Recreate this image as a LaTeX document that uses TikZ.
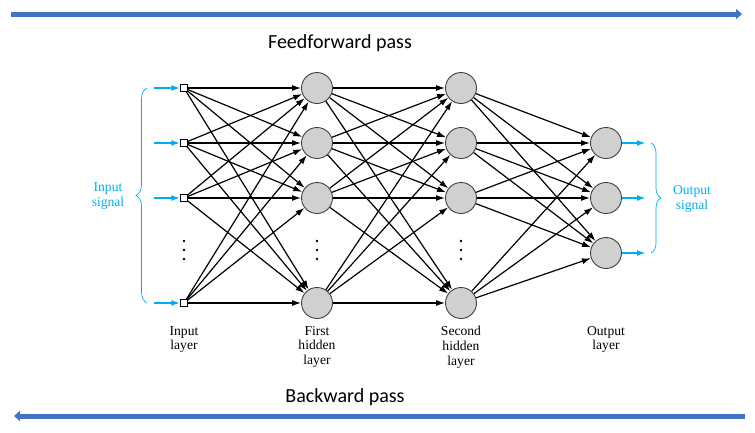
\documentclass[tikz,border=0pt]{standalone}
\usepackage{fontspec}
\setmainfont{Liberation Serif}
\newfontfamily\passfont{Carlito}
\usetikzlibrary{graphs,arrows.meta,decorations.pathreplacing}
\definecolor{signalblue}{HTML}{00AEEF}
\definecolor{passblue}{HTML}{4472C4}
\definecolor{neurongray}{HTML}{D0D0D0}
\tikzset{
  neuron/.style={circle,draw=black!75,fill=neurongray,line width=.9pt,minimum size=31pt,inner sep=0pt},
  inputbox/.style={rectangle,draw=black,fill=white,line width=.9pt,minimum size=6.5pt,inner sep=0pt},
  layerlabel/.style={align=center,inner sep=0pt,font=\fontsize{13.6}{14.7}\selectfont},
  sigarrow/.style={signalblue,line width=2pt,-{Latex[length=9pt,width=6pt]}},
  sigbrace/.style={signalblue,line width=.7pt,decorate},
  passarrow/.style={passblue,line width=5pt,-{Triangle[length=6pt,width=10pt]}},
  passlabel/.style={font=\passfont\fontsize{20}{24}\selectfont},
  linkarrow/.style={line width=1.2pt,black}
}
\begin{document}
\begin{tikzpicture}[x=1pt,y=-1pt,>={Latex[length=9pt,width=6pt]}]
\useasboundingbox (0,0) rectangle (755,432);
% layers
\foreach \y [count=\i] in {88,143,198,303}{
  \node [inputbox] (i\i) at (184,\y) {};
  \node [neuron] (a\i) at (317,\y) {};
  \node [neuron] (b\i) at (461,\y) {};
  \coordinate (in\i) at (154,\y);
}
\foreach \y [count=\i] in {143,198,253}{
  \node [neuron] (o\i) at (606,\y) {};
  \coordinate (out\i) at (646,\y);
}
\foreach \x in {184,317,461}
  \foreach \y in {241,250,259}
    \fill (\x,\y) circle (1.4);
% fully connected layers
\graph [use existing nodes, edges={linkarrow}]
{ {i1,i2,i3,i4} -> [complete bipartite] {a1,a2,a3,a4}
  -> [complete bipartite] {b1,b2,b3,b4}
  -> [complete bipartite] {o1,o2,o3} };
% signals
\foreach \i in {1,...,4} \draw [sigarrow] (in\i) -- (i\i);
\foreach \i in {1,2,3} \draw [sigarrow] (o\i) -- (out\i);
\draw [sigbrace,decoration={brace,amplitude=11pt}] (147,303) -- (147,88);
\draw [sigbrace,decoration={brace,amplitude=10pt}] (651,143) -- (651,253);
\node [layerlabel,signalblue] (insig) at (108,196) {Input\\signal};
\node [layerlabel,signalblue] (outsig) at (692,199) {Output\\signal};
% layer names
\node [layerlabel,anchor=north] (inlabel) at (184,326) {Input\\layer};
\node [layerlabel,anchor=north] (h1label) at (317,326) {First\\hidden\\layer};
\node [layerlabel,anchor=north] (h2label) at (461,326) {Second\\hidden\\layer};
\node [layerlabel,anchor=north] (outlabel) at (606,326) {Output\\layer};
% passes
\coordinate (ffstart) at (11,14);
\coordinate (ffend) at (742,14);
\coordinate (bpstart) at (745,416);
\coordinate (bpend) at (14,416);
\draw [passarrow] (ffstart) -- (ffend);
\draw [passarrow] (bpstart) -- (bpend);
\node [passlabel] (fflabel) at (340,43) {Feedforward pass};
\node [passlabel] (bplabel) at (345,397) {Backward pass};
\end{tikzpicture}
\end{document}
